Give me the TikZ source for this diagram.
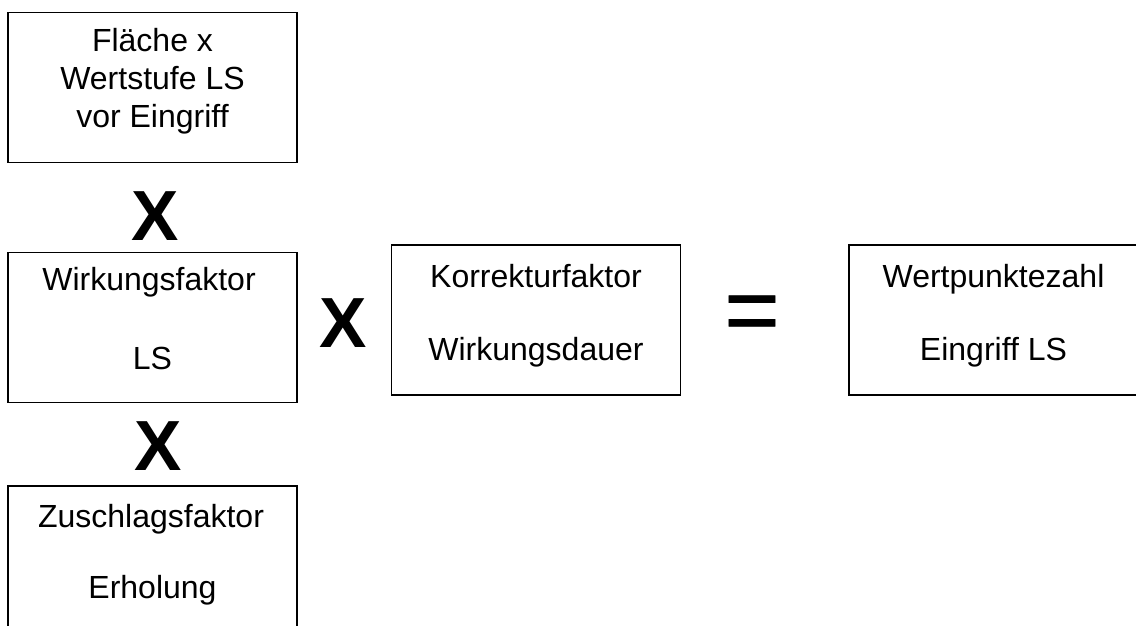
\documentclass[tikz,border=0pt]{standalone}
\usepackage{fontspec}
\setmainfont{Liberation Sans}
\newfontfamily\eqfont[FakeBold=0.8]{Liberation Sans}
\begin{document}
\begin{tikzpicture}[x=1pt,y=-1pt,
  box/.style={draw, line width=1.6pt, minimum width=289pt, minimum height=150pt, inner sep=0pt},
  lbl/.style={anchor=base, inner sep=0pt, font=\fontsize{32}{38}\selectfont},
  op/.style={inner sep=0pt, font=\fontsize{71}{80}\selectfont\bfseries},
  eqop/.style={inner sep=0pt, font=\eqfont\fontsize{95}{100}\selectfont}]
\useasboundingbox (0,0) rectangle (1136,626);
% boxes
\node[box] (b1) at (152.5,87.5) {};
\node[box] (b2) at (152.5,327.5) {};
\node[box] (b3) at (152.5,561) {};
\node[box] (bm) at (536,320) {};
\node[box] (br) at (993.5,320) {};
% texts
\node[lbl] (t1a) at (152.5,52) {Fläche x};
\node[lbl] (t1b) at (152.5,89.5) {Wertstufe LS};
\node[lbl] (t1c) at (152.5,127) {vor Eingriff};
\node[lbl] (t2a) at (149,290) {Wirkungsfaktor};
\node[lbl] (t2b) at (152.5,369) {LS};
\node[lbl] (t3a) at (151,527) {Zuschlagsfaktor};
\node[lbl] (t3b) at (152.5,598) {Erholung};
\node[lbl] (tma) at (536,287) {Korrekturfaktor};
\node[lbl] (tmb) at (536,360) {Wirkungsdauer};
\node[lbl] (tra) at (993.5,287) {Wertpunktezahl};
\node[lbl] (trb) at (993.5,360) {Eingriff LS};
% operators
\node[op] (x1) at (155.5,216.5) {X};
\node[op] (x2) at (158.5,446.5) {X};
\node[op] (x3) at (343,323) {X};
\node[eqop] (eq) at (752,319) {=};
\end{tikzpicture}
\end{document}
